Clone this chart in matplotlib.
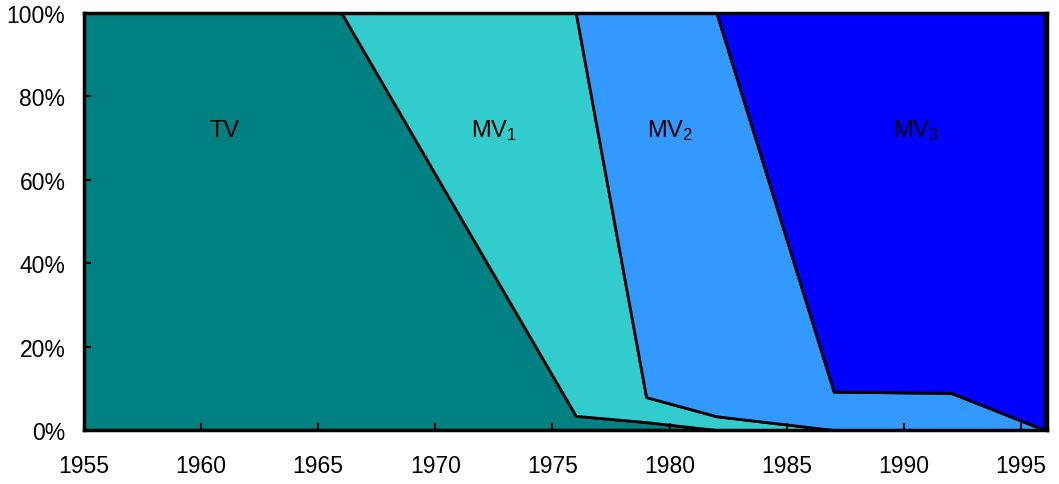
import matplotlib
matplotlib.use('Agg')
import matplotlib.pyplot as plt
import numpy as np

plt.rcParams['font.family'] = ['Liberation Sans', 'DejaVu Sans']
plt.rcParams['mathtext.fontset'] = 'custom'
plt.rcParams['mathtext.rm'] = 'Liberation Sans'
plt.rcParams['mathtext.default'] = 'regular'

# break-point years and shares (%)
years = [1955, 1966, 1976, 1979, 1982, 1987, 1992, 1996]
tv  = [100, 100, 3.4, 1.9, 0.0, 0.0, 0.0, 0.0]
mv1 = [0, 0, 96.6, 6.0, 3.3, 0.0, 0.0, 0.0]
mv2 = [0, 0, 0.0, 92.1, 96.7, 9.2, 8.9, 0.0]
mv3 = [0, 0, 0.0, 0.0, 0.0, 90.8, 91.1, 100.0]

names = ['TV', 'MV$_1$', 'MV$_2$', 'MV$_3$']
colors = ['#008080', '#33CCCC', '#3399FF', '#0000FF']
label_x = [1961, 1972.5, 1980, 1990.5]
label_y = 72

fig = plt.figure(figsize=(10.59, 4.85), dpi=100)
ax = fig.add_axes([0.0789, 0.1113, 0.9098, 0.8598])

series = [tv, mv1, mv2, mv3]
ax.stackplot(years, series, colors=colors, edgecolor='black', linewidth=2)

for n, xx in zip(names, label_x):
    ax.text(xx, label_y, n, ha='center', va='center', fontsize=17)

ax.set_xlim(1955, 1996.1)
ax.set_ylim(0, 100)
ax.set_xticks(range(1955, 1996, 5))
ax.set_yticks(range(0, 101, 20))
ax.set_yticklabels([f'{v}%' for v in range(0, 101, 20)])
ax.tick_params(direction='in', length=5, width=1.5, labelsize=16.5)
ax.tick_params(axis='x', pad=17)
ax.tick_params(axis='y', pad=13)
for s in ax.spines.values():
    s.set_linewidth(2.5)

fig.savefig('out.png', dpi=100)
